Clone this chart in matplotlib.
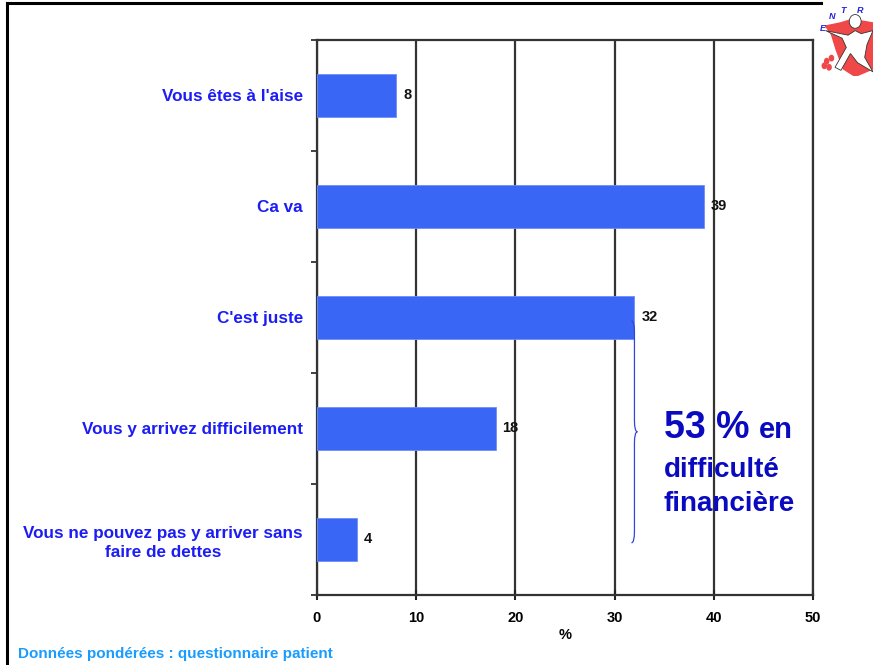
import numpy as np
import matplotlib.pyplot as plt
from matplotlib.path import Path
from matplotlib.patches import PathPatch, Polygon, Ellipse, Circle
from matplotlib.lines import Line2D

plt.rcParams['font.family'] = ['Liberation Sans', 'DejaVu Sans']

# survey answers and weighted percentages
categories = ["Vous êtes à l'aise", "Ca va", "C'est juste",
              "Vous y arrivez difficilement",
              "Vous ne pouvez pas y arriver sans\nfaire de dettes"]
values = [8, 39, 32, 18, 4]
x_ticks = [0, 10, 20, 30, 40, 50]

fig = plt.figure(figsize=(8.73, 6.65), dpi=100)
ax = fig.add_axes([0.3631, 0.1053, 0.5682, 0.8346])

pos = np.arange(len(categories))
ax.barh(pos, values, height=0.38, color='#3a66f5', edgecolor='#6f8ff7',
        linewidth=0.6, zorder=3)
for p, v in zip(pos, values):
    ax.text(v + 0.7, p, str(v), va='center', ha='left', fontsize=10.5,
            fontweight='bold', color='#111111')

ax.set_xlim(0, 50)
ax.set_ylim(len(categories) - 0.5, -0.5)
ax.set_xticks(x_ticks)
ax.set_xticklabels([str(t) for t in x_ticks], fontsize=10.5, fontweight='bold')
ax.set_yticks(pos)
ax.set_yticklabels(categories, fontsize=12.3, fontweight='bold', color='#1c1cf5',
                   ha='right', multialignment='center', linespacing=1.3)
ax.tick_params(axis='y', length=0, pad=10)
ax.set_yticks(np.arange(-0.5, len(categories), 1.0), minor=True)
ax.tick_params(axis='y', which='minor', length=4, width=1.2, direction='out',
               color='#222222')
ax.tick_params(axis='x', length=7, width=1.5, direction='inout', pad=8,
               color='#222222')
ax.set_xlabel('%', fontsize=10.5, fontweight='bold', labelpad=2)

ax.grid(axis='x', color='#333333', linewidth=1.6, zorder=0)
for side in ['top', 'bottom', 'left', 'right']:
    ax.spines[side].set_color('#333333')
    ax.spines[side].set_linewidth(1.6)

# brace grouping the two lower answers with "C'est juste"
x0 = values[2] - 0.3
yt, yb = pos[2] + 0.03, pos[4] + 0.03
ym = (yt + yb) / 2
dx = 0.3
verts = [(x0, yt), (x0 + dx, yt), (x0 + dx, yt + 0.1),
         (x0 + dx, ym - 0.1), (x0 + dx, ym), (x0 + 2 * dx, ym),
         (x0 + dx, ym), (x0 + dx, ym + 0.1),
         (x0 + dx, yb - 0.1), (x0 + dx, yb), (x0, yb)]
codes = [Path.MOVETO, Path.CURVE3, Path.CURVE3,
         Path.LINETO, Path.CURVE3, Path.CURVE3,
         Path.CURVE3, Path.CURVE3,
         Path.LINETO, Path.CURVE3, Path.CURVE3]
ax.add_patch(PathPatch(Path(verts, codes), fill=False, edgecolor='#3344dd',
                       linewidth=0.9, zorder=4, clip_on=False))

ax.text(0.7606, 0.3415, '53 %', transform=fig.transFigure, fontsize=27,
        fontweight='bold', color='#0a0ac0')
ax.text(0.869, 0.3415, 'en', transform=fig.transFigure, fontsize=21,
        fontweight='bold', color='#0a0ac0')
ax.text(0.7606, 0.2825, 'difficulté', transform=fig.transFigure, fontsize=20,
        fontweight='bold', color='#0a0ac0')
ax.text(0.7595, 0.2315, 'financière', transform=fig.transFigure, fontsize=20,
        fontweight='bold', color='#0a0ac0')

fig.text(0.021, 0.011, 'Données pondérées : questionnaire patient', fontsize=11,
         fontweight='bold', color='#1a9cff')

# slide frame
fig.add_artist(Line2D([0.008, 0.94], [0.995, 0.995], color='black', lw=2.2,
                      transform=fig.transFigure))
fig.add_artist(Line2D([0.008, 0.008], [0.995, 0.0], color='black', lw=2.2,
                      transform=fig.transFigure))

# small logo in the corner
logo = fig.add_axes([0.932, 0.885, 0.068, 0.115])
logo.set_xlim(0, 1)
logo.set_ylim(0, 1)
logo.axis('off')
logo.add_patch(Polygon([(0.2, 0.66), (0.45, 0.7), (0.62, 0.74), (0.85, 0.72),
                        (1.0, 0.7), (1.0, 0.1), (0.7, 0.0), (0.5, 0.1),
                        (0.38, 0.35), (0.3, 0.55)],
                       closed=True, color='#f04848'))
logo.add_patch(Polygon([(0.2, 0.6), (0.58, 0.54), (0.7, 0.6), (0.8, 0.56),
                        (1.0, 0.6), (0.9, 0.42), (0.86, 0.25), (1.0, 0.06),
                        (0.74, 0.18), (0.62, 0.3), (0.46, 0.08), (0.36, 0.12),
                        (0.55, 0.38), (0.48, 0.5)],
                       closed=True, facecolor='white', edgecolor='#333333',
                       linewidth=0.6))
logo.add_patch(Ellipse((0.7, 0.72), 0.2, 0.18, facecolor='white',
                       edgecolor='#333333', linewidth=0.6))
for cx, cy in [(0.22, 0.2), (0.3, 0.24), (0.26, 0.12), (0.18, 0.14)]:
    logo.add_patch(Circle((cx, cy), 0.035, color='#f04848'))
for s, (lx, ly) in zip('ENTR', [(0.15, 0.63), (0.31, 0.78), (0.49, 0.86),
                               (0.78, 0.86)]):
    logo.text(lx, ly, s, fontsize=6.5, style='italic', fontweight='bold',
              color='#2222dd', ha='center', va='center')

fig.savefig('out.png', dpi=100)
